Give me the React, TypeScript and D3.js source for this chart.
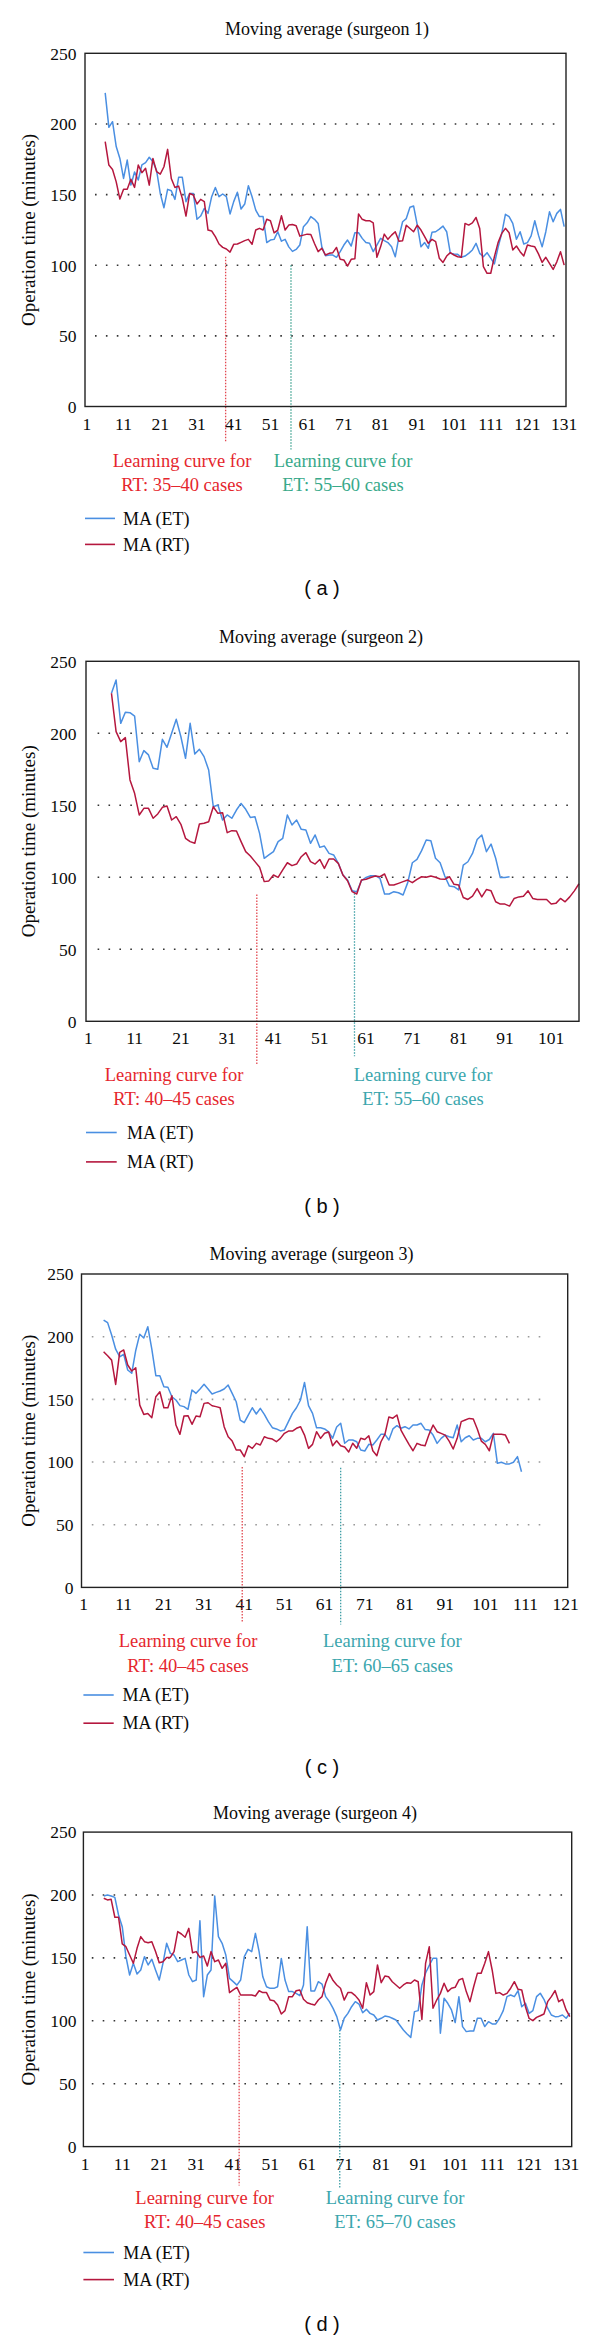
import React from 'react';
import * as d3 from 'd3';

const START_CASE = 6;
const yTicks = [0, 50, 100, 150, 200, 250];
const gridValues = [50, 100, 150, 200];
const xTicksA = [1, 11, 21, 31, 41, 51, 61, 71, 81, 91, 101, 111, 121, 131];
const xTicksB = [1, 11, 21, 31, 41, 51, 61, 71, 81, 91, 101];
const xTicksC = [1, 11, 21, 31, 41, 51, 61, 71, 81, 91, 101, 111, 121];
const xTicksD = [1, 11, 21, 31, 41, 51, 61, 71, 81, 91, 101, 111, 121, 131];
const xDomainEnd = [131.5, 107, 121.5, 132.5];

const titles = [
  'Moving average (surgeon 1)',
  'Moving average (surgeon 2)',
  'Moving average (surgeon 3)',
  'Moving average (surgeon 4)',
];
const panelLabels = ['( a )', '( b )', '( c )', '( d )'];
const seriesNames = ['MA (ET)', 'MA (RT)'];
const yTitle = 'Operation time (minutes)';
const rtNotes = [
  ['Learning curve for', 'RT: 35\u201340 cases'],
  ['Learning curve for', 'RT: 40\u201345 cases'],
  ['Learning curve for', 'RT: 40\u201345 cases'],
  ['Learning curve for', 'RT: 40\u201345 cases'],
];
const etNotes = [
  ['Learning curve for', 'ET: 55\u201360 cases'],
  ['Learning curve for', 'ET: 55\u201360 cases'],
  ['Learning curve for', 'ET: 60\u201365 cases'],
  ['Learning curve for', 'ET: 65\u201370 cases'],
];
// case position and top value of the dotted learning-curve markers
const rtCutCase = [38.8, 37.4, 40.5, 42.6];
const rtCutTop = [106, 88, 96, 120];
const etCutCase = [56.6, 58.5, 65, 69.8];
const etCutTop = [100, 89, 95.5, 92.7];

// Surgeon 1 (cases 6..131)
const etA = [222, 197.6, 201.6, 184, 175.6, 161.4, 174.4, 156.7, 166, 160.3, 171, 172.6, 176.4, 173.3, 167, 150.8, 140.7, 153.7, 152.7, 146.6,
  162.2, 162.2, 145, 150.8, 150.8, 132.5, 134.8, 140.2, 136.7, 148.5, 155, 148.5, 150.4, 148.5, 136.3, 145, 151.6, 139.8, 143.3, 156.3,
  148.5, 139, 134.4, 134.4, 116, 117.8, 118.3, 123.7, 117, 118.3, 113, 109.8, 111.2, 114.3, 127.3, 130, 134.4, 132.5, 129.6, 113,
  106.7, 107.2, 107.2, 105.6, 109.6, 114.3, 117.8, 113.6, 123, 123, 119, 116, 115.6, 109.6, 114.3, 119, 117.4, 116, 113, 106,
  120, 130.8, 133, 141, 141.9, 128.4, 113, 116, 112, 123.3, 123.7, 125.6, 127.7, 123.7, 108.4, 108, 107.7, 105.6, 106.5, 108.4,
  110.8, 115.5, 108.4, 106, 108.9, 105, 100.9, 112.6, 122.5, 136, 134.4, 129.6, 118.4, 123.7, 115, 116, 120.8, 131.5, 121.3, 113,
  123.7, 137.8, 130.8, 136.7, 139.5, 127.3];
const rtA = [187.4, 170.9, 167.8, 159, 146.8, 153.7, 153.7, 160.8, 155.1, 170.9, 165.5, 168.6, 156.7, 175.6, 166.2, 164.5, 169.7, 182, 161.4, 155,
  156, 147.3, 134.8, 150.8, 149.7, 143.3, 146.6, 145, 124.9, 124.2, 120.2, 115, 112.6, 111.5, 109.3, 114.8, 115, 116.2, 117.4, 118.3,
  114.8, 124.9, 126.1, 124.9, 132.5, 131.5, 122.9, 124.9, 135, 124.9, 128.4, 128.8, 127.9, 120.6, 121.3, 122, 121.8, 115.4, 109.6, 112,
  107.2, 108.4, 108.9, 112.6, 104.2, 103.7, 99.4, 104.2, 104.6, 136.3, 132.5, 131.5, 131.5, 130, 105.6, 113, 122, 118.3, 121.3, 123.7,
  117, 117.4, 128.3, 126, 123.7, 128.3, 124.9, 120.2, 115.5, 118.3, 116.7, 104.9, 102, 106.5, 108.9, 107.2, 106, 105.6, 129.6, 128.4,
  130, 133.8, 126, 99, 94.3, 94.3, 106, 116, 122.5, 126.1, 123, 110.8, 113.6, 109.6, 106.5, 114.3, 113.6, 113, 108, 102,
  105.6, 101.3, 97, 102.4, 109.6, 100.1];

// Surgeon 2 (ET cases 6..92, RT cases 6..107)
const etB = [227.8, 237, 206.9, 214.6, 214.3, 212, 180.3, 188, 185, 175.7, 175, 195.8, 190.3, 200, 209.7, 197.6, 182.6, 206.9, 185.6, 188.9,
  183.8, 174.5, 149, 150.2, 139.8, 143.3, 141, 146.7, 151.3, 147.2, 141.6, 142.1, 130.5, 113.2, 115.5, 117.8, 124.8, 127.1, 143.3, 136.3,
  139.8, 133.3, 132.8, 123.6, 129.4, 120.8, 121.7, 116.6, 115.5, 109.7, 101.6, 98.1, 90.7, 90, 97.6, 99.9, 101.1, 101.1, 99.3, 88.4,
  88.4, 90, 89.3, 87.7, 96.3, 110.1, 112.4, 118.5, 125.9, 125.4, 113.2, 110.1, 100.9, 93.9, 93.5, 91.2, 108.5, 110.8, 116.6, 126.3,
  129.4, 117.8, 123.1, 113.2, 99.8, 99.8, 100.4];
const rtB = [227.8, 201.2, 194.2, 197, 167.6, 158.3, 143.3, 147.9, 147.9, 141, 144, 148.6, 149.5, 139.8, 142.1, 136.8, 127.1, 124.8, 123.6, 137,
  137.5, 138.6, 149, 144.4, 144.9, 131, 132.4, 132.2, 124.8, 117.8, 114.8, 110.9, 107, 97, 97.5, 101.6, 100, 105.1, 110.1, 108.1,
  109.2, 114.3, 117.1, 110.9, 109.2, 112.4, 106.2, 112.7, 112.7, 109.7, 101.6, 97.6, 90, 88.4, 98.1, 98.6, 99.9, 100.9, 100.4, 102.3,
  94.6, 94.6, 95.8, 97, 98.1, 96.3, 98.6, 100.4, 100, 100.9, 100, 98.8, 98.6, 100.4, 95.1, 94.6, 86, 84.6, 86.9, 92.2,
  86.4, 91.5, 90.6, 83, 81.4, 81.4, 80, 85.3, 86.4, 86.9, 90.6, 85.3, 84.6, 84.6, 84.6, 81.4, 81.9, 85.3, 83, 86.4,
  90.6, 95.5];

// Surgeon 3 (ET cases 6..110, RT cases 6..107)
const etC = [213.3, 211.2, 201.3, 190, 184, 185.9, 173.4, 170.8, 189, 202, 199, 208, 190, 168.9, 168.9, 160.1, 159.6, 152.1, 149.5, 145,
  144.2, 142.1, 157.5, 154.8, 158.3, 162, 158.3, 154.3, 155.6, 156.7, 158.3, 161.4, 154.8, 148.1, 133.5, 131.4, 137.5, 143.3, 138.3, 142.8,
  138, 132.2, 127.4, 126.4, 124.8, 125.6, 132.2, 138.8, 143.3, 149.5, 163.5, 145, 138.8, 127.4, 127.4, 126.4, 124, 119, 128, 131,
  115, 117.6, 117.6, 116.2, 109.6, 108.8, 114.1, 113.6, 117.6, 122.1, 122.1, 117.6, 126.4, 129, 126.9, 128.2, 126.4, 129.5, 129.5, 130.9,
  126, 125.5, 121.5, 114.9, 118.9, 121.5, 120.2, 119.4, 129.5, 116.2, 119.4, 121, 117.6, 118.9, 118.9, 116.2, 118, 122.9, 99, 99.8,
  98.5, 98.5, 99.8, 104.3, 92.3];
const rtC = [188, 184.8, 181.3, 161.9, 187.5, 189.4, 177.4, 172.6, 175.2, 145.4, 138, 138.8, 135.4, 152.1, 156.1, 143.3, 143.3, 152.9, 129.5, 122.1,
  136.7, 137, 130.1, 136.7, 136.2, 146.8, 147.3, 144.9, 144.2, 143.3, 128.2, 120.2, 116.7, 109.6, 109.6, 104.3, 113, 110.9, 114.9, 113.6,
  120.2, 118.9, 118.3, 116.2, 118.9, 122.9, 124.7, 124.7, 126.9, 128.2, 121.5, 110.9, 114.1, 124.2, 118.9, 123, 124, 113, 117, 113,
  112, 108, 115, 111, 119, 118, 121, 109, 105, 116, 122, 136, 135, 137.5, 125.5, 119.7, 114.1, 109, 114.9, 113.6,
  113, 122.1, 129.5, 124.2, 122.9, 121.5, 116.7, 110.4, 118.9, 132.2, 133.5, 134.8, 134.3, 126.4, 116.7, 114.1, 109, 122.1, 122.1, 122.1,
  121.5, 114.9];

// Surgeon 4 (cases 6..132)
const etD = [199.2, 200, 199.2, 198.1, 184.1, 174.8, 151, 136.4, 145.7, 137.2, 140.4, 151, 144.4, 148.9, 140.4, 132.4, 145.7, 161.6, 153.6, 152.3,
  147, 148.3, 149.6, 136.4, 131.1, 132.4, 179.6, 119.2, 136.4, 140.4, 199.2, 166.9, 161.6, 152.3, 133.7, 131.1, 128.4, 132.4, 151, 156.8,
  155, 169.5, 155, 135, 127.1, 125.8, 125.8, 127.1, 149.6, 132.4, 123.2, 123.2, 121.8, 120, 128.4, 174.8, 123.7, 123.7, 131.1, 129.2,
  119.2, 115.2, 109.9, 103.3, 92.7, 102, 105.9, 111.2, 115.2, 113.3, 106.4, 109.1, 105.9, 104.6, 100.6, 102, 103.8, 103.3, 102, 100.6,
  96.7, 92.7, 89.5, 86.8, 107.3, 108.1, 128.5, 138, 144, 149.7, 149.7, 90.1, 117.9, 113.9, 108.6, 98.6, 119.2, 95.4, 91.4, 91.9,
  91.9, 102, 102, 95.4, 99.3, 97.5, 97.5, 102, 108.1, 119.2, 120.5, 119.2, 123.9, 111.2, 113.9, 105.9, 108.1, 119.2, 121.9, 117.1,
  110, 104.6, 103.3, 103.5, 104.6, 102, 106];
const rtD = [197.4, 196.1, 196.6, 182.3, 182.3, 161.1, 158.9, 152.3, 145.7, 157.6, 166.9, 162.9, 162.1, 162.9, 155, 146.2, 147, 150.4, 150.4, 155,
  170.9, 169, 166.4, 173.5, 154.1, 155, 150.4, 151.5, 143.5, 155, 147, 148.3, 141.7, 145.7, 122.4, 124.5, 126.6, 120.5, 120.5, 120.5,
  120.5, 119.7, 123.9, 122.4, 122.4, 116.5, 116, 112.5, 105.4, 108.1, 119.2, 119.2, 123.9, 124.5, 117.1, 114.4, 113.4, 112.5, 116.5, 119.2,
  130, 137.5, 132, 128.5, 125.9, 116.5, 122.4, 122.4, 120, 116.5, 110, 130.3, 120.5, 123.2, 144.4, 130.3, 135.6, 135, 131, 128.5,
  125.9, 128.5, 130.3, 129.8, 132.4, 131, 101, 145.7, 158.9, 110, 116.5, 121.8, 129.8, 123.2, 125.9, 126.6, 132.4, 133.7, 123.2, 115.2,
  127.1, 137.7, 137.7, 145.7, 155, 140.4, 121.8, 122.4, 120.5, 121.8, 125.9, 131.1, 125, 124.5, 111.2, 101.9, 100.1, 102.7, 104, 105.4,
  115.2, 119.2, 124, 115.2, 117.1, 108.6, 103.3];

const etSeries = [etA, etB, etC, etD];
const rtSeries = [rtA, rtB, rtC, rtD];
const xTickSets = [xTicksA, xTicksB, xTicksC, xTicksD];

const BLUE = '#4a8fe2';
const RED = '#b5173e';
const RED_TEXT = '#e5262d';
const RED_DOT = '#e2474f';
const INK = '#0a0a0a';
const SERIF = '"Liberation Serif", "Times New Roman", serif';
const SANS = '"Liberation Sans", Arial, sans-serif';

const layouts = [
  { top: 53.3, bottom: 406.5, left: 85, right: 566, titleX: 327, titleY: 35, tickRight: 76.5, gx1: 95, gx2: 557,
    rtX: 182, etX: 343, n1: 466.5, n2: 491, rtExt: 35, etExt: 43, legY1: 518.4, legY2: 544.4, legX1: 85, legX2: 115, legTX: 123,
    labelY: 595, gridColor: '#333', tealText: '#38a98a', tealDot: '#3aa08e' },
  { top: 661.3, bottom: 1021.3, left: 86, right: 579, titleX: 321, titleY: 642.7, tickRight: 76.5, gx1: 97.6, gx2: 576,
    rtX: 174, etX: 423, n1: 1081, n2: 1105.4, rtExt: 43.5, etExt: 35, legY1: 1132.5, legY2: 1161.9, legX1: 86, legX2: 116.7, legTX: 127,
    labelY: 1213, gridColor: '#333', tealText: '#3ba6ad', tealDot: '#3d9ea5' },
  { top: 1274, bottom: 1587.4, left: 81.5, right: 567.7, titleX: 311.5, titleY: 1259.6, tickRight: 73.5, gx1: 91.8, gx2: 547,
    rtX: 188, etX: 392.3, n1: 1647, n2: 1671.6, rtExt: 35.3, etExt: 37.2, legY1: 1695, legY2: 1723.2, legX1: 83.4, legX2: 113.7, legTX: 122.5,
    labelY: 1774, gridColor: '#999', tealText: '#3ba6ad', tealDot: '#3d9ea5' },
  { top: 1832.1, bottom: 2146.6, left: 83.4, right: 571.7, titleX: 315, titleY: 1818.7, tickRight: 76.5, gx1: 91.8, gx2: 570,
    rtX: 204.7, etX: 395, n1: 2204.3, n2: 2228, rtExt: 39, etExt: 41, legY1: 2252.5, legY2: 2279.6, legX1: 83.4, legX2: 114, legTX: 123.2,
    labelY: 2331, gridColor: '#333', tealText: '#3ba6ad', tealDot: '#3d9ea5' },
];

function Panel({ idx }: { idx: number }) {
  const L = layouts[idx];
  const x = d3.scaleLinear().domain([0.5, xDomainEnd[idx]]).range([L.left, L.right]);
  const y = d3.scaleLinear().domain([0, 250]).range([L.bottom, L.top]);
  const line = d3.line<number>().x((_, i) => x(START_CASE + i)).y((v) => y(v));
  const midY = (L.top + L.bottom) / 2;
  return (
    <g>
      <text x={L.titleX} y={L.titleY} textAnchor="middle" fontFamily={SERIF} fontSize={18} fill={INK}>{titles[idx]}</text>
      {gridValues.map((g) => (
        <line key={g} x1={L.gx1} x2={L.gx2} y1={y(g)} y2={y(g)} stroke={L.gridColor} strokeWidth={1.6}
          strokeDasharray="1.6 9.3" />
      ))}
      {yTicks.map((t) => (
        <text key={t} x={L.tickRight} y={y(t)} dy="0.36em" textAnchor="end" fontFamily={SERIF} fontSize={17.5} fill={INK}>{t}</text>
      ))}
      {xTickSets[idx].map((t) => (
        <text key={t} x={x(t)} y={L.bottom + 23} textAnchor="middle" fontFamily={SERIF} fontSize={17.5} fill={INK}>{t}</text>
      ))}
      <text transform={`translate(35,${midY}) rotate(-90)`} textAnchor="middle" fontFamily={SERIF} fontSize={19} fill={INK}>{yTitle}</text>
      <line x1={x(rtCutCase[idx])} x2={x(rtCutCase[idx])} y1={y(rtCutTop[idx])} y2={L.bottom + L.rtExt}
        stroke={RED_DOT} strokeWidth={1.3} strokeDasharray="1.5 1.5" />
      <line x1={x(etCutCase[idx])} x2={x(etCutCase[idx])} y1={y(etCutTop[idx])} y2={L.bottom + L.etExt}
        stroke={L.tealDot} strokeWidth={1.3} strokeDasharray="1.5 1.5" />
      <path d={line(etSeries[idx]) || ''} fill="none" stroke={BLUE} strokeWidth={1.5} strokeLinejoin="round" />
      <path d={line(rtSeries[idx]) || ''} fill="none" stroke={RED} strokeWidth={1.5} strokeLinejoin="round" />
      <rect x={L.left} y={L.top} width={L.right - L.left} height={L.bottom - L.top} fill="none" stroke="#222" strokeWidth={1.4} />
      <text x={L.rtX} y={L.n1} textAnchor="middle" fontFamily={SERIF} fontSize={18.5} fill={RED_TEXT}>{rtNotes[idx][0]}</text>
      <text x={L.rtX} y={L.n2} textAnchor="middle" fontFamily={SERIF} fontSize={18.5} fill={RED_TEXT}>{rtNotes[idx][1]}</text>
      <text x={L.etX} y={L.n1} textAnchor="middle" fontFamily={SERIF} fontSize={18.5} fill={L.tealText}>{etNotes[idx][0]}</text>
      <text x={L.etX} y={L.n2} textAnchor="middle" fontFamily={SERIF} fontSize={18.5} fill={L.tealText}>{etNotes[idx][1]}</text>
      <line x1={L.legX1} x2={L.legX2} y1={L.legY1} y2={L.legY1} stroke={BLUE} strokeWidth={1.6} />
      <text x={L.legTX} y={L.legY1} dy="0.34em" fontFamily={SERIF} fontSize={18} fill={INK}>{seriesNames[0]}</text>
      <line x1={L.legX1} x2={L.legX2} y1={L.legY2} y2={L.legY2} stroke={RED} strokeWidth={1.6} />
      <text x={L.legTX} y={L.legY2} dy="0.34em" fontFamily={SERIF} fontSize={18} fill={INK}>{seriesNames[1]}</text>
      <text x={322} y={L.labelY} textAnchor="middle" fontFamily={SANS} fontSize={20} fill={INK}>{panelLabels[idx]}</text>
    </g>
  );
}

export default function App() {
  return (
    <svg width={600} height={2341} viewBox="0 0 600 2341"
      style={{ position: 'absolute', left: 0, top: 0, background: '#fff', display: 'block' }}>
      <rect x={0} y={0} width={600} height={2341} fill="#fff" />
      {[0, 1, 2, 3].map((i) => <Panel key={i} idx={i} />)}
    </svg>
  );
}
